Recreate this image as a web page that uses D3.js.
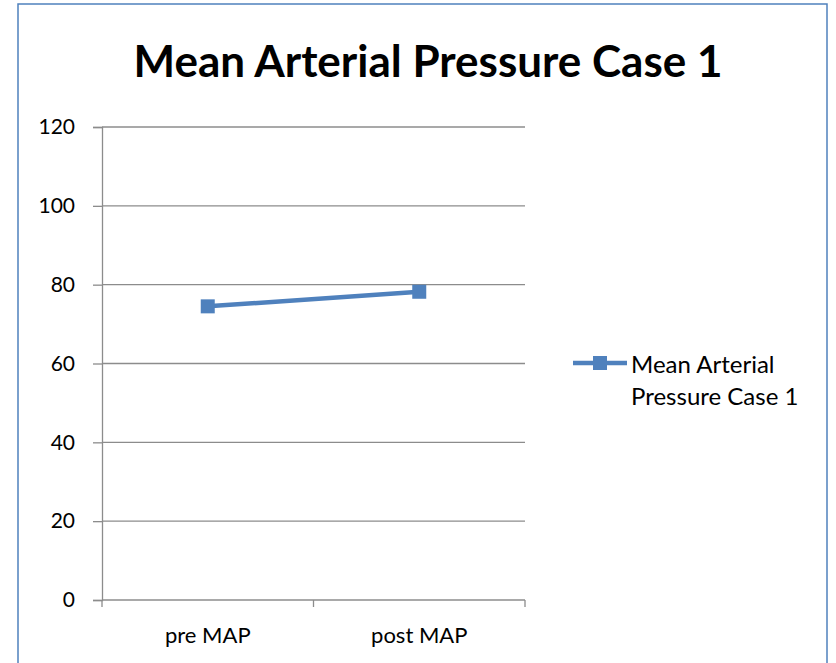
<html>
<head>
<script src="https://cdnjs.cloudflare.com/ajax/libs/d3/7.8.5/d3.min.js"></script>
<style>
body { margin: 0; background: #fff; }
text { font-family: Lato, "Open Sans", sans-serif; }
</style>
</head>
<body>
<script>
// chart data
var categories = ["pre MAP", "post MAP"];
var values = [74.5, 78.2];
var yTicks = [0, 20, 40, 60, 80, 100, 120];
var seriesName = ["Mean Arterial", "Pressure Case 1"];
var title = "Mean Arterial Pressure Case 1";

var W = 836, H = 663;
var plot = {left: 102, right: 525, top: 127, bottom: 600};
var blue = "#4f81bd";
var grid = "#8c8c8c";

var svg = d3.select("body").append("svg")
    .attr("width", W)
    .attr("height", H);

// outer frame
svg.append("rect")
    .attr("x", 18).attr("y", 4)
    .attr("width", 809).attr("height", 660)
    .attr("fill", "#fff")
    .attr("stroke", blue)
    .attr("stroke-width", 1.5);

svg.append("text")
    .attr("x", 428).attr("y", 77)
    .attr("text-anchor", "middle")
    .attr("font-size", 44)
    .attr("font-weight", "bold")
    .text(title);

var y = d3.scaleLinear().domain([0, 120]).range([plot.bottom, plot.top]);
var x = d3.scaleBand().domain(categories).range([plot.left, plot.right]);

// gridlines
svg.append("g").selectAll("line")
    .data(yTicks.filter(function(d) { return d > 0; }))
    .enter().append("line")
    .attr("x1", plot.left).attr("x2", plot.right)
    .attr("y1", function(d) { return y(d); })
    .attr("y2", function(d) { return y(d); })
    .attr("stroke", grid)
    .attr("stroke-width", 1.3);

// y axis
var yAxis = svg.append("g")
    .attr("transform", "translate(" + plot.left + ",0)")
    .call(d3.axisLeft(y).tickValues(yTicks).tickSize(9).tickPadding(18));
yAxis.select(".domain").attr("stroke", grid).attr("stroke-width", 1.3);
yAxis.selectAll(".tick line").attr("stroke", grid).attr("stroke-width", 1.3);
yAxis.selectAll("text")
    .attr("font-size", 21)
    .attr("fill", "#000")
    .style("font-family", "Lato, 'Open Sans', sans-serif");

// x axis
var xAxis = svg.append("g")
    .attr("transform", "translate(0," + plot.bottom + ")")
    .call(d3.axisBottom(x).tickSize(0).tickPadding(27));
xAxis.select(".domain").remove();
xAxis.selectAll("text")
    .attr("font-size", 22)
    .attr("fill", "#000")
    .style("font-family", "Lato, 'Open Sans', sans-serif");
svg.append("line")
    .attr("x1", plot.left).attr("x2", plot.right)
    .attr("y1", plot.bottom).attr("y2", plot.bottom)
    .attr("stroke", grid).attr("stroke-width", 1.3);
var edges = [plot.left].concat(categories.map(function(c) { return x(c) + x.bandwidth(); }));
svg.append("g").selectAll("line")
    .data(edges)
    .enter().append("line")
    .attr("x1", function(d) { return d; }).attr("x2", function(d) { return d; })
    .attr("y1", plot.bottom).attr("y2", plot.bottom + 7)
    .attr("stroke", grid).attr("stroke-width", 1.3);

// series
var cx = function(d, i) { return x(categories[i]) + x.bandwidth() / 2; };
svg.append("path")
    .datum(values)
    .attr("fill", "none")
    .attr("stroke", blue)
    .attr("stroke-width", 4.5)
    .attr("d", d3.line().x(cx).y(function(d) { return y(d); }));
svg.append("g").selectAll("rect")
    .data(values)
    .enter().append("rect")
    .attr("x", function(d, i) { return cx(d, i) - 7; })
    .attr("y", function(d) { return y(d) - 7; })
    .attr("width", 14).attr("height", 14)
    .attr("fill", blue);

// legend
svg.append("line")
    .attr("x1", 573).attr("x2", 627)
    .attr("y1", 363).attr("y2", 363)
    .attr("stroke", blue).attr("stroke-width", 4.5);
svg.append("rect")
    .attr("x", 593).attr("y", 356)
    .attr("width", 14).attr("height", 14)
    .attr("fill", blue);
svg.append("g").selectAll("text")
    .data(seriesName)
    .enter().append("text")
    .attr("x", 631)
    .attr("y", function(d, i) { return 373 + i * 32; })
    .attr("font-size", 24)
    .text(function(d) { return d; });
</script>
</body>
</html>
